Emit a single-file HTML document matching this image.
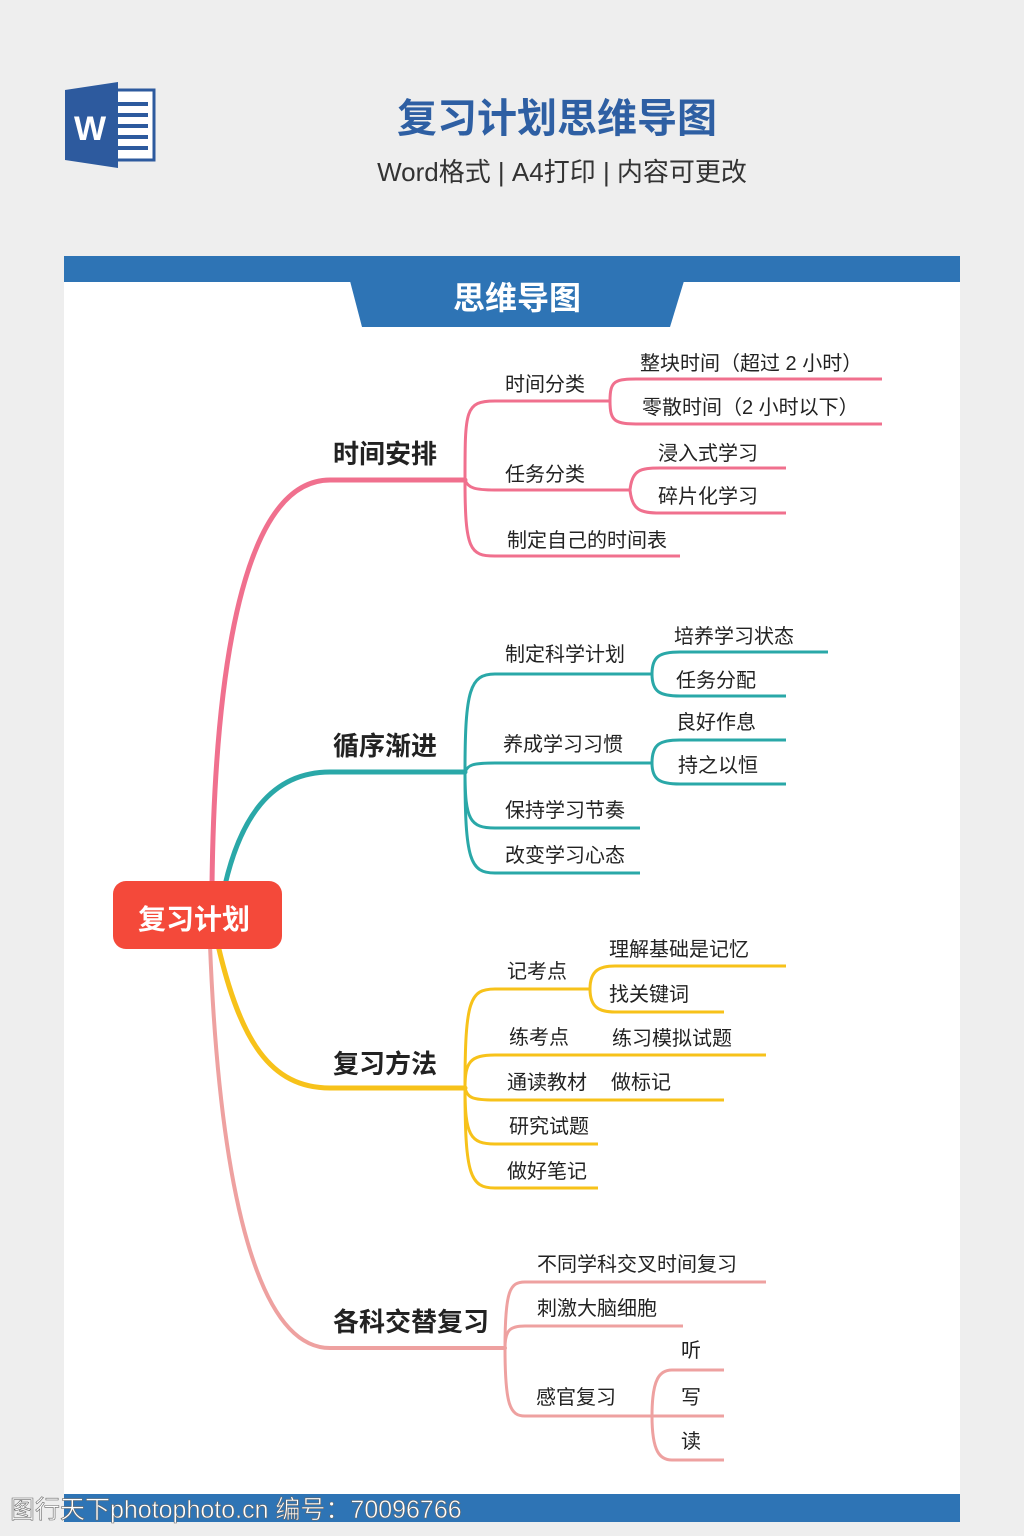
<!DOCTYPE html>
<html><head><meta charset="utf-8"><style>
html,body{margin:0;padding:0;background:#eeeeee;}
body{width:1024px;height:1536px;position:relative;overflow:hidden;font-family:"Liberation Sans","Noto Sans CJK SC",sans-serif;}
</style></head><body>
<svg width="1024" height="1536" viewBox="0 0 1024 1536" xmlns="http://www.w3.org/2000/svg" style="position:absolute;left:0;top:0">
<rect x="0" y="0" width="1024" height="1536" fill="#eeeeee"/>
<rect x="106" y="90" width="48" height="70" fill="#fff" stroke="#2d5a9e" stroke-width="3"/>
<g stroke="#2d5a9e" stroke-width="4">
<line x1="118" y1="104" x2="148" y2="104"/><line x1="118" y1="115" x2="148" y2="115"/><line x1="118" y1="126" x2="148" y2="126"/><line x1="118" y1="137" x2="148" y2="137"/><line x1="118" y1="148" x2="148" y2="148"/>
</g>
<polygon points="65,90 118,82 118,168 65,160" fill="#2d5a9e"/>
<text x="90" y="140" font-family="Liberation Sans,sans-serif" font-weight="bold" font-size="34" fill="#fff" text-anchor="middle">W</text>
<text x="557" y="132" font-family="Liberation Sans,Noto Sans CJK SC,sans-serif" font-weight="bold" font-size="40" fill="#2e5fa3" text-anchor="middle">复习计划思维导图</text>
<text x="562" y="181" font-family="Liberation Sans,Noto Sans CJK SC,sans-serif" font-size="26" fill="#333" text-anchor="middle">Word格式 | A4打印 | 内容可更改</text>
<rect x="64" y="256" width="896" height="1240" fill="#fff"/>
<rect x="64" y="256" width="896" height="26" fill="#2e74b5"/>
<polygon points="350,281 684,281 670,327 362,327" fill="#2e74b5"/>
<text x="517" y="309" font-family="Liberation Sans,Noto Sans CJK SC,sans-serif" font-weight="bold" font-size="32" fill="#fff" text-anchor="middle">思维导图</text>
<rect x="64" y="1494" width="896" height="28" fill="#2e74b5"/>

<g fill="none" stroke-linecap="round">
<path d="M212 885 C215 640 250 480 330 480 H465" stroke="#f0708e" stroke-width="5"/>
<path d="M225 885 C240 820 270 772 330 772 H465" stroke="#2aa8a8" stroke-width="5"/>
<path d="M218 945 C240 1040 270 1088 330 1088 H465" stroke="#f7c21a" stroke-width="5"/>
<path d="M210 945 C220 1200 260 1348 330 1348 H505" stroke="#eea1a0" stroke-width="4"/>
</g>
<g fill="none" stroke="#f0708e" stroke-width="3">
<path d="M465 480 C465 410 465 401 495 401 H610"/>
<path d="M465 480 C468 488 475 490 495 490 H630"/>
<path d="M465 480 C465 550 470 556 495 556 H680"/>
<path d="M610 401 C610 380 615 379 640 379 H882"/>
<path d="M610 401 C610 422 615 424 640 424 H882"/>
<path d="M630 490 C632 470 640 468 660 468 H786"/>
<path d="M630 490 C632 510 640 513 660 513 H786"/>
</g>
<g fill="none" stroke="#2aa8a8" stroke-width="3">
<path d="M465 772 C465 690 470 674 495 674 H652"/>
<path d="M465 772 C468 765 472 763 495 763 H652"/>
<path d="M465 772 C465 820 470 828 495 828 H640"/>
<path d="M465 772 C465 860 470 873 495 873 H640"/>
<path d="M652 674 C652 656 660 652 680 652 H828"/>
<path d="M652 674 C652 692 660 696 680 696 H786"/>
<path d="M652 763 C652 744 660 740 680 740 H786"/>
<path d="M652 763 C652 780 660 784 680 784 H786"/>
</g>
<g fill="none" stroke="#f7c21a" stroke-width="3">
<path d="M465 1088 C465 1000 470 989 495 989 H590"/>
<path d="M465 1088 C465 1062 470 1055 495 1055 H766"/>
<path d="M465 1088 C468 1098 472 1100 495 1100 H724"/>
<path d="M465 1088 C465 1135 470 1144 495 1144 H598"/>
<path d="M465 1088 C465 1175 470 1188 495 1188 H598"/>
<path d="M590 989 C590 970 600 966 615 966 H786"/>
<path d="M590 989 C590 1008 600 1012 615 1012 H724"/>
</g>
<g fill="none" stroke="#eea1a0" stroke-width="3">
<path d="M505 1348 C505 1290 510 1282 525 1282 H766"/>
<path d="M505 1348 C505 1330 510 1326 525 1326 H683"/>
<path d="M505 1348 C505 1405 510 1416 525 1416 H652"/>
<path d="M652 1416 C652 1378 660 1370 672 1370 H724"/>
<path d="M652 1416 H724"/>
<path d="M652 1416 C652 1452 660 1460 672 1460 H724"/>
</g>

<rect x="113" y="881" width="169" height="68" rx="13" fill="#f4493a"/>
<text x="194" y="929" font-family="Liberation Sans,Noto Sans CJK SC,sans-serif" font-weight="bold" font-size="28" fill="#fff" text-anchor="middle">复习计划</text>

<g font-family="Liberation Sans,Noto Sans CJK SC,sans-serif" font-weight="bold" font-size="26" fill="#222">
<text x="333" y="463">时间安排</text>
<text x="333" y="755">循序渐进</text>
<text x="333" y="1073">复习方法</text>
<text x="333" y="1331">各科交替复习</text>
</g>
<g font-family="Liberation Sans,Noto Sans CJK SC,sans-serif" font-size="20" fill="#222">
<text x="505" y="391">时间分类</text>
<text x="505" y="481">任务分类</text>
<text x="507" y="547">制定自己的时间表</text>
<text x="640" y="370">整块时间（超过 2 小时）</text>
<text x="642" y="414">零散时间（2 小时以下）</text>
<text x="658" y="460">浸入式学习</text>
<text x="658" y="503">碎片化学习</text>
<text x="505" y="661">制定科学计划</text>
<text x="503" y="751">养成学习习惯</text>
<text x="505" y="817">保持学习节奏</text>
<text x="505" y="862">改变学习心态</text>
<text x="674" y="643">培养学习状态</text>
<text x="676" y="687">任务分配</text>
<text x="676" y="729">良好作息</text>
<text x="678" y="772">持之以恒</text>
<text x="507" y="978">记考点</text>
<text x="509" y="1044">练考点</text>
<text x="507" y="1089">通读教材</text>
<text x="509" y="1133">研究试题</text>
<text x="507" y="1178">做好笔记</text>
<text x="609" y="956">理解基础是记忆</text>
<text x="609" y="1001">找关键词</text>
<text x="612" y="1045">练习模拟试题</text>
<text x="611" y="1089">做标记</text>
<text x="537" y="1271">不同学科交叉时间复习</text>
<text x="537" y="1315">刺激大脑细胞</text>
<text x="536" y="1404">感官复习</text>
<text x="681" y="1357">听</text>
<text x="681" y="1404">写</text>
<text x="681" y="1448">读</text>
</g>
<text x="10" y="1518" font-family="Liberation Sans,Noto Sans CJK SC,sans-serif" font-size="25" fill="#fff" stroke="#666" stroke-width="0.6">图行天下photophoto.cn 编号：70096766</text>
</svg>
</body></html>
